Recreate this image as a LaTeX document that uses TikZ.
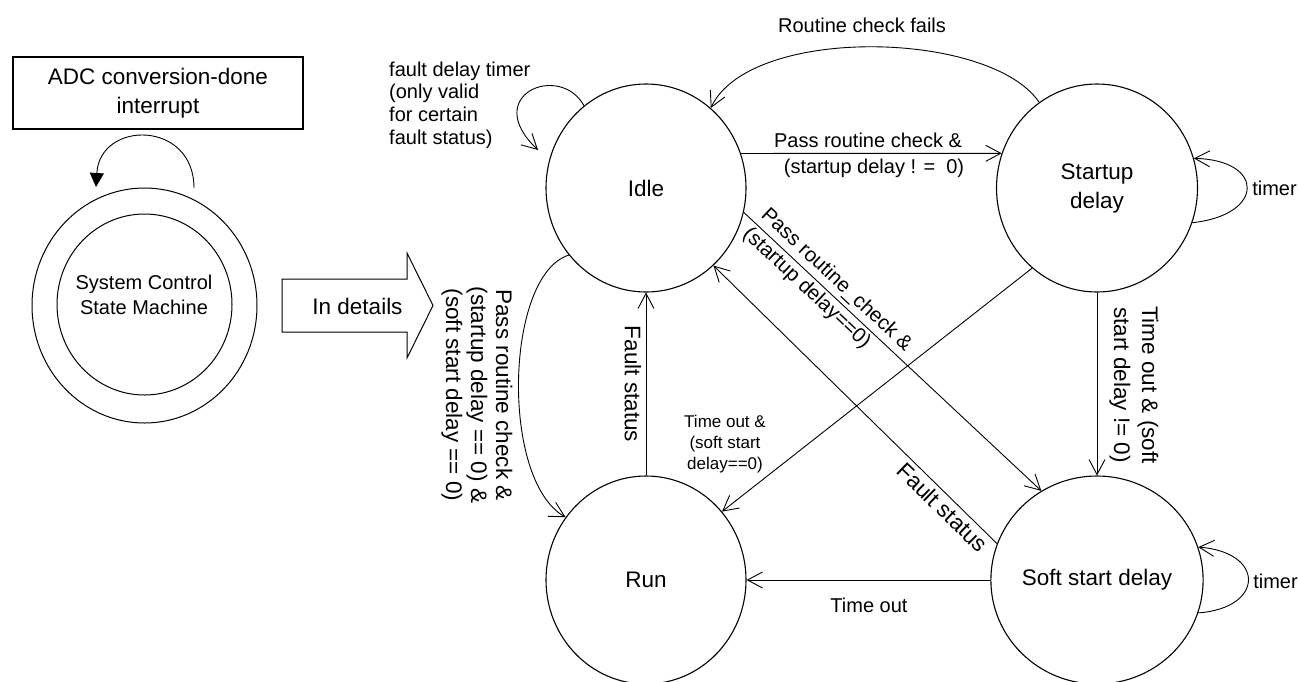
\documentclass[tikz,border=0pt]{standalone}
\usepackage{fontspec}
\setmainfont{Liberation Sans}
\usetikzlibrary{shapes.geometric,arrows.meta}
\begin{document}
\begin{tikzpicture}[x=1pt,y=-1pt,
  state/.style={draw, ellipse, line width=1.1pt, minimum width=200pt, minimum height=208pt, inner sep=0pt, font=\fontsize{22.5}{29}\selectfont, align=center},
  conn/.style={line width=0.9pt, -{Straight Barb[length=15pt,width=16pt]}},
  lbl/.style={inner sep=0pt, font=\fontsize{20}{23}\selectfont, align=center},
  big/.style={font=\fontsize{22.5}{27}\selectfont}
]
\useasboundingbox (0,0) rectangle (1299,681);

% left part
\node[draw, line width=1.1pt, minimum width=290pt, minimum height=72pt, inner sep=0pt, font=\fontsize{22.5}{29}\selectfont, align=center] (adc) at (158,93) {ADC conversion-done\\interrupt};
\node[draw, ellipse, line width=1pt, minimum width=225pt, minimum height=235pt] (sm) at (144.5,305.5) {};
\node[draw, ellipse, line width=1pt, minimum width=175pt, minimum height=181pt] (smin) at (144.5,304.5) {};
\node[lbl, font=\fontsize{20}{25}\selectfont] (smtext) at (144,294.5) {System Control\\State Machine};
\coordinate (adcA) at (194,188);
\coordinate (adcB) at (96,187);
\draw[line width=0.9pt, -{Triangle[length=14pt,width=14pt]}] (adcA) .. controls (194,120) and (100,120) .. (adcB);

\draw[line width=1pt, fill=white] (282,279) -- (407,279) -- (407,253) -- (433,305.5) -- (407,358) -- (407,332) -- (282,332) -- cycle;
\node[big, inner sep=0pt] (indet) at (357.5,306) {In details};

% states
\node[state] (idle) at (646,188) {Idle};
\node[state, minimum width=201pt] (startup) at (1097,188) {Startup\\delay};
\node[state] (run) at (646,580) {Run};
\node[state, minimum width=201pt] (soft) at (1097,580) {Soft start delay};

% connectors
\draw[conn] (idle.20) -- (startup.160);
\node[lbl] (l1) at (868,140) {Pass routine check \&};
\node[lbl] (l2) at (874,168) {(startup delay ! =~~0)};

\draw[conn] (startup.124.5) .. controls (990,30) and (750,25) .. (idle.51.7);
\node[lbl] (rcf) at (862,25) {Routine check fails};

\draw[conn] (startup.-20) .. controls (1265,215) and (1265,160) .. (startup.17);
\node[lbl] (t1) at (1274.5,188) {timer};

\draw[conn] (soft.-18) .. controls (1265,608) and (1265,552) .. (soft.18);
\node[lbl] (t2) at (1275.5,581) {timer};

\draw[conn] (idle.-14.5) -- (soft.122.8);
\node[lbl, rotate=-43.2, align=left, font=\fontsize{20.5}{26.5}\selectfont] (l3) at (827.2,289.9) {Pass routine\_check \&\\(startup delay==0)};

\draw[conn] (soft.160) -- (idle.-49.3);
\node[lbl, big, rotate=-44.1] (fs2) at (942.5,507.5) {Fault status};

\draw[conn] (startup.-129) -- (run.42.6);
\node[lbl, font=\fontsize{17}{21}\selectfont] (l4) at (725,444) {Time out \&\\(soft start\\delay==0)};

\draw[conn] (startup.south) -- (soft.north);
\node[lbl, rotate=-90, font=\fontsize{22.5}{28}\selectfont] (l5) at (1134,385) {Time out \& (soft\\start delay != 0)};

\draw[conn] (soft.west) -- (run.east);
\node[lbl] (l6) at (869,605) {Time out};

\draw[conn] (run.north) -- (idle.south);
\node[lbl, big, rotate=-90] (fs1) at (633,384) {Fault status};

\draw[conn] (idle.-139) .. controls (505,275) and (500,480) .. (run.142.7);
\node[lbl, rotate=-90, font=\fontsize{22.5}{25}\selectfont] (l7) at (477,395) {Pass routine check \&\\(startup delay == 0) \&\\(soft start delay == 0)};

\coordinate (iloopend) at (538,150);
\draw[conn] (idle.127) .. controls (560,62) and (480,95) .. (iloopend);
\node[lbl, anchor=west, align=left, font=\fontsize{20}{22.7}\selectfont] (fdt) at (389,105) {fault delay timer\\(only valid\\for certain\\fault status)};
\end{tikzpicture}
\end{document}
